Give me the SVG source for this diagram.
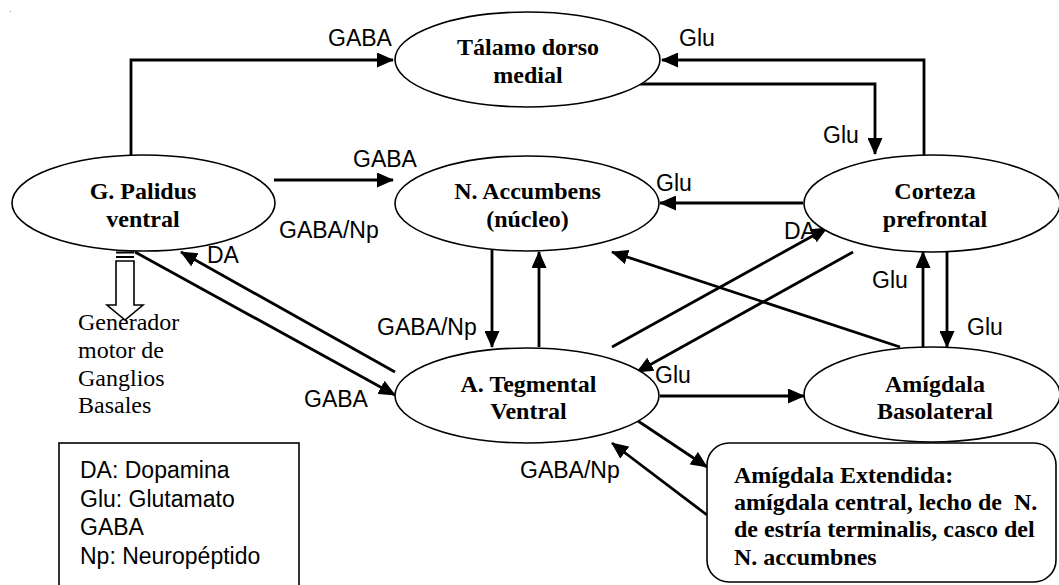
<svg xmlns="http://www.w3.org/2000/svg" width="1059" height="585" viewBox="0 0 1059 585">
<style>
.node{fill:#fff;stroke:#000;stroke-width:1.6}
.nt{font-family:"Liberation Serif","Times New Roman",serif;font-weight:bold;font-size:24px;fill:#000;text-anchor:middle}
.lbl{font-family:"Liberation Sans",Arial,sans-serif;font-size:23px;fill:#000}
.con{fill:none;stroke:#000;stroke-width:2.8}
.ext{font-family:"Liberation Serif","Times New Roman",serif;font-weight:bold;font-size:24px;fill:#000}
.gen{font-family:"Liberation Serif","Times New Roman",serif;font-size:24px;fill:#000}
</style>
<defs>
<marker id="ah" viewBox="0 0 17 15" refX="16" refY="7.5" markerWidth="17" markerHeight="15" markerUnits="userSpaceOnUse" orient="auto">
<path d="M0,0 L17,7.5 L0,15 z" fill="#000"/>
</marker>
</defs>
<rect width="1059" height="585" fill="#fff"/>
<rect x="10" y="11" width="1" height="1" fill="#888"/>

<g id="connectors">
<path class="con" d="M131,155 V60 H393" marker-end="url(#ah)"/>
<path class="con" d="M924,155 V60 H662" marker-end="url(#ah)"/>
<path class="con" d="M640,84 H875 V154" marker-end="url(#ah)"/>
<line class="con" x1="274" y1="180" x2="393" y2="180" marker-end="url(#ah)"/>
<line class="con" x1="803" y1="203" x2="660" y2="203" marker-end="url(#ah)"/>
<line class="con" x1="395" y1="372" x2="181" y2="252" marker-end="url(#ah)"/>
<line class="con" x1="135" y1="252" x2="395" y2="395" marker-end="url(#ah)"/>
<line class="con" x1="492" y1="250" x2="492" y2="347" marker-end="url(#ah)"/>
<line class="con" x1="539" y1="347" x2="539" y2="252" marker-end="url(#ah)"/>
<line class="con" x1="612" y1="347" x2="827" y2="228" marker-end="url(#ah)"/>
<line class="con" x1="853" y1="252" x2="637" y2="372" marker-end="url(#ah)"/>
<line class="con" x1="900" y1="347" x2="612" y2="252" marker-end="url(#ah)"/>
<line class="con" x1="923" y1="347" x2="923" y2="252" marker-end="url(#ah)"/>
<line class="con" x1="947" y1="252" x2="947" y2="347" marker-end="url(#ah)"/>
<line class="con" x1="660" y1="396" x2="804" y2="396" marker-end="url(#ah)"/>
<line class="con" x1="635" y1="419" x2="707" y2="467" marker-end="url(#ah)"/>
<line class="con" x1="707" y1="515" x2="612" y2="443" marker-end="url(#ah)"/>
</g>

<g id="labels">
<text class="lbl" x="328" y="46">GABA</text>
<text class="lbl" x="679" y="46">Glu</text>
<text class="lbl" x="823" y="143">Glu</text>
<text class="lbl" x="353" y="167">GABA</text>
<text class="lbl" x="656" y="191">Glu</text>
<text class="lbl" x="279" y="238">GABA/Np</text>
<text class="lbl" x="207" y="263">DA</text>
<text class="lbl" x="784" y="239">DA</text>
<text class="lbl" x="377" y="335">GABA/Np</text>
<text class="lbl" x="872" y="288">Glu</text>
<text class="lbl" x="967" y="335">Glu</text>
<text class="lbl" x="655" y="383">Glu</text>
<text class="lbl" x="304" y="407">GABA</text>
<text class="lbl" x="520" y="478">GABA/Np</text>
</g>

<g id="talamo">
<ellipse class="node" cx="527.5" cy="59.5" rx="132.5" ry="47.5"/>
<text class="nt" x="528" y="55">Tálamo dorso</text>
<text class="nt" x="528" y="83">medial</text>
</g>
<g id="palidus">
<ellipse class="node" cx="143.5" cy="203" rx="131.5" ry="48"/>
<text class="nt" x="143" y="199">G. Palidus</text>
<text class="nt" x="143" y="227">ventral</text>
</g>
<g id="accumbens">
<ellipse class="node" cx="527" cy="203.5" rx="132" ry="47.5"/>
<text class="nt" x="527.5" y="199">N. Accumbens</text>
<text class="nt" x="527.5" y="227">(núcleo)</text>
</g>
<g id="corteza">
<ellipse class="node" cx="932" cy="203.5" rx="128" ry="48.5"/>
<text class="nt" x="935" y="199">Corteza</text>
<text class="nt" x="935" y="227">prefrontal</text>
</g>
<g id="tegmental">
<ellipse class="node" cx="527" cy="395.5" rx="132" ry="47.5"/>
<text class="nt" x="528.5" y="392">A. Tegmental</text>
<text class="nt" x="528.5" y="419">Ventral</text>
</g>
<g id="basolateral">
<ellipse class="node" cx="932" cy="394.5" rx="128" ry="47.5"/>
<text class="nt" x="935" y="392">Amígdala</text>
<text class="nt" x="935" y="419">Basolateral</text>
</g>
<g id="extendida">
<rect class="node" x="707" y="443" width="349" height="139" rx="22" ry="22"/>
<text class="ext" x="734" y="483">Amígdala Extendida:</text>
<text class="ext" x="734" y="510" xml:space="preserve">amígdala central, lecho de  N.</text>
<text class="ext" x="734" y="537">de estría terminalis, casco del</text>
<text class="ext" x="734" y="565">N. accumbnes</text>
</g>
<g id="generador">
<rect x="116" y="251.5" width="18" height="2" fill="#000"/>
<rect x="116" y="256" width="18" height="2" fill="#000"/>
<path d="M116,261 H134 V305 H143 L125,320 L107,305 H116 Z" fill="#fff" stroke="#000" stroke-width="1.6"/>
<text class="gen" x="78" y="330">Generador</text>
<text class="gen" x="78" y="358">motor de</text>
<text class="gen" x="78" y="386">Ganglios</text>
<text class="gen" x="78" y="413">Basales</text>
</g>
<g id="legend">
<rect x="59" y="443" width="240" height="150" fill="#fff" stroke="#000" stroke-width="1.6"/>
<text class="lbl" x="80" y="478">DA: Dopamina</text>
<text class="lbl" x="80" y="507">Glu: Glutamato</text>
<text class="lbl" x="80" y="535">GABA</text>
<text class="lbl" x="80" y="564">Np: Neuropéptido</text>
</g>
</svg>
